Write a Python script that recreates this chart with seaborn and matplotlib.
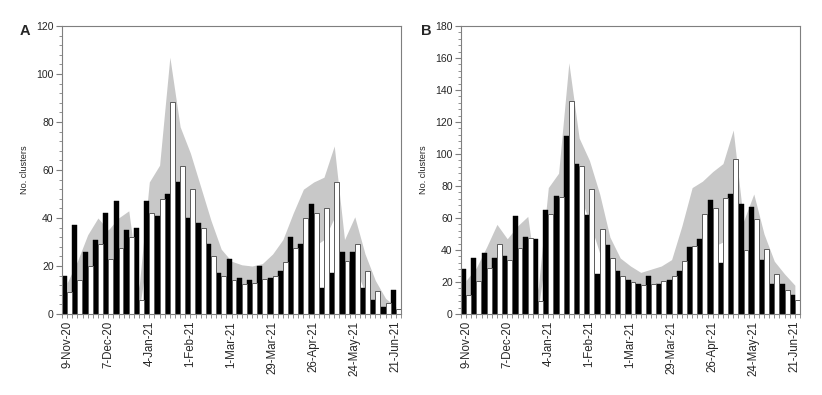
import numpy as np
import pandas as pd
import matplotlib
matplotlib.use("Agg")
import matplotlib.pyplot as plt
import seaborn as sns
from matplotlib.ticker import MultipleLocator

sns.set_style("ticks")
plt.rcParams["font.family"] = ["Liberation Sans", "DejaVu Sans"]

# ---- data ----
weeks = pd.date_range("2020-11-09", periods=33, freq="7D")
week_labels = [f"{d.day}-{d.strftime('%b-%y')}" for d in weeks]
tick_labels = ["9-Nov-20", "7-Dec-20", "4-Jan-21", "1-Feb-21", "1-Mar-21",
               "29-Mar-21", "26-Apr-21", "24-May-21", "21-Jun-21"]

obs_a = [16, 37, 26, 31, 42, 47, 35, 36, 47, 41, 50, 55, 40, 38, 29, 17, 23,
         15, 14, 20, 15, 18, 32, 29, 46, 11, 17, 26, 26, 11, 6, 3, 10]
exp_a = [9, 14, 20, 29, 23, 27.5, 32, 6, 42, 48, 88.5, 61.5, 52, 36, 24, 16, 14,
         12.5, 13, 14.5, 16, 21.5, 27.5, 40, 42, 44, 55, 22, 29, 18, 9.5, 4.5, 2]
hi_a = [13, 22, 33, 40, 35, 40, 43, 11, 55, 62, 107, 78, 67, 53, 39, 27, 22,
        20.5, 20, 21, 25, 31, 42, 52, 55, 57, 70, 31, 40.5, 25, 14, 6.5, 3]
lo_a = [4, 10, 15, 21, 17, 21, 26, 1, 30, 33, 45, 45, 36, 27, 18, 13, 9,
        7, 6.5, 7, 9, 13, 17, 23, 28, 31, 40, 13, 20, 9, 3, 1, 0.5]

obs_b = [28, 35, 38, 35, 36, 61, 48, 47, 65, 74, 111, 94, 62, 25, 43, 27, 21,
         19, 24, 19, 21, 27, 42, 47, 71, 32, 75, 69, 67, 34, 19, 19, 12]
exp_b = [12, 20.5, 29, 44, 34, 41, 47.5, 8, 62.5, 73, 133, 92.5, 78, 53, 35, 24, 20,
         18, 19, 20.5, 24, 33, 42.5, 62.5, 66, 72.5, 97, 40, 59.5, 40.5, 25, 15, 9]
hi_b = [21, 29, 42, 56, 47, 55, 61, 15, 79, 88, 157, 110, 96, 75, 48, 35, 30,
        26, 28, 30, 34, 55, 79, 83, 89, 94, 115, 58, 75, 50, 33, 25, 18]
lo_b = [4, 13, 21, 31, 27, 33, 40, 2, 48, 54, 80, 75, 58, 38, 24, 17, 9.5,
        8, 10, 11, 13, 17, 27, 37, 42, 45, 60, 20, 33, 17, 8, 4, 1]

SPINE = "#7f7f7f"


def panel(ax, obs, exp, lo, hi, ymax, letter, lx):
    df = pd.DataFrame({
        "week": week_labels * 2,
        "series": ["Observed"] * len(obs) + ["Expected"] * len(exp),
        "value": obs + exp,
    })
    sns.barplot(data=df, x="week", y="value", hue="series",
                hue_order=["Observed", "Expected"],
                palette={"Observed": "black", "Expected": "white"},
                width=0.97, errorbar=None, legend=False, ax=ax, zorder=2)
    for p in ax.containers[0]:
        p.set_edgecolor("black")
        p.set_linewidth(0.3)
    for p in ax.containers[1]:
        p.set_edgecolor("#5a5a5a")
        p.set_linewidth(0.7)
    x = np.arange(len(obs))
    ax.fill_between(x, lo, hi, color="#c8c8c8", linewidth=0, zorder=0.5)

    ax.set_xlim(-0.5, len(obs) - 0.5)
    ax.set_ylim(0, ymax)
    ax.set_xticks(np.arange(0, len(obs), 4))
    ax.set_xticklabels(tick_labels, rotation=90, fontsize=8.3)
    ax.set_xticks(np.arange(-0.5, len(obs), 0.5), minor=True)
    ax.yaxis.set_major_locator(MultipleLocator(20))
    ax.yaxis.set_minor_locator(MultipleLocator(4))
    ax.tick_params(axis="y", which="major", labelsize=7.5, length=4,
                   width=0.8, color=SPINE, pad=2)
    ax.tick_params(axis="y", which="minor", length=2, width=0.6, color=SPINE)
    ax.tick_params(axis="x", which="major", length=3, width=0.6, color=SPINE, pad=2)
    ax.tick_params(axis="x", which="minor", length=3, width=0.6, color=SPINE)
    for s in ax.spines.values():
        s.set_visible(True)
        s.set_color(SPINE)
        s.set_linewidth(0.8)
    ax.set_xlabel("")
    ax.set_ylabel("No. clusters", fontsize=6.6, labelpad=5)
    ax.figure.text(lx, 0.94, letter, fontsize=10.5, fontweight="bold",
                   ha="left", va="top")


fig = plt.figure(figsize=(8.22, 3.95), dpi=100)
axA = fig.add_axes([62 / 822, 1 - 314 / 395, (401 - 62) / 822, (314 - 26) / 395])
axB = fig.add_axes([461 / 822, 1 - 314 / 395, (800 - 461) / 822, (314 - 26) / 395])

panel(axA, obs_a, exp_a, lo_a, hi_a, 120, "A", 20 / 822)
panel(axB, obs_b, exp_b, lo_b, hi_b, 180, "B", 421 / 822)

fig.savefig("out.png", dpi=100)
